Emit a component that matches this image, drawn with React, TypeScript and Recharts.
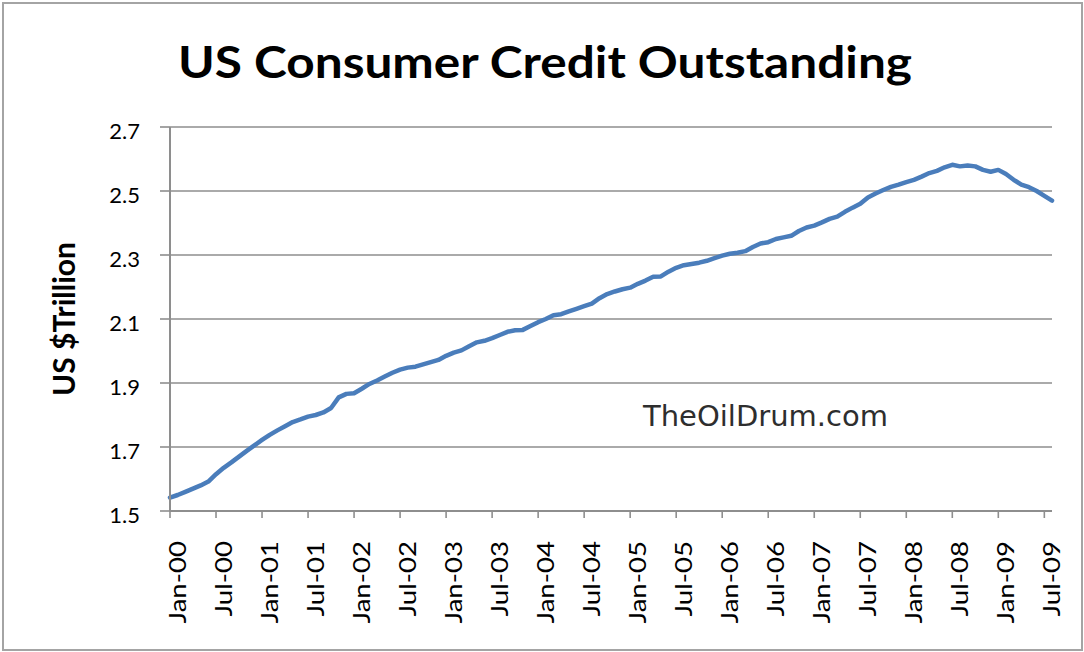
import React from 'react';
import { LineChart, Line, XAxis, YAxis, CartesianGrid } from 'recharts';

const MONTH_NAMES = ['Jan', 'Feb', 'Mar', 'Apr', 'May', 'Jun', 'Jul', 'Aug', 'Sep', 'Oct', 'Nov', 'Dec'];
const START_YEAR = 2000;

// US consumer credit outstanding, $ trillion, monthly Jan-2000 .. Aug-2009
const credit = [
  1.542, 1.550, 1.560, 1.570, 1.580, 1.592, 1.615, 1.635, 1.652, 1.670, 1.688, 1.705,
  1.722, 1.738, 1.752, 1.765, 1.778, 1.786, 1.795, 1.800, 1.808, 1.822, 1.855, 1.866,
  1.868, 1.882, 1.897, 1.908, 1.920, 1.932, 1.942, 1.948, 1.951, 1.958, 1.965, 1.972,
  1.985, 1.995, 2.002, 2.015, 2.027, 2.032, 2.040, 2.050, 2.060, 2.065, 2.066, 2.078,
  2.090, 2.100, 2.112, 2.115, 2.124, 2.132, 2.140, 2.148, 2.165, 2.178, 2.186, 2.193,
  2.198, 2.210, 2.220, 2.232, 2.233, 2.248, 2.260, 2.268, 2.272, 2.276, 2.282, 2.290,
  2.298, 2.304, 2.307, 2.312, 2.325, 2.336, 2.340, 2.350, 2.355, 2.360, 2.375, 2.386,
  2.392, 2.402, 2.413, 2.420, 2.435, 2.448, 2.460, 2.480, 2.492, 2.503, 2.513, 2.520,
  2.528, 2.535, 2.545, 2.556, 2.563, 2.574, 2.582, 2.577, 2.580, 2.577, 2.566, 2.560,
  2.566, 2.553, 2.535, 2.520, 2.512, 2.500, 2.485, 2.470,
];

const yTicks = [1.5, 1.7, 1.9, 2.1, 2.3, 2.5, 2.7];

const months = credit.map((_, i) => {
  const yr = START_YEAR + Math.floor(i / 12);
  return `${MONTH_NAMES[i % 12]}-${String(yr % 100).padStart(2, '0')}`;
});

const data = credit.map((v, i) => ({ month: months[i], value: v }));

const GRID = '#8e8e8e';

const XTick = (props: any) => {
  const { x, y, payload } = props;
  return (
    <g transform={`translate(${x},${y})`}>
      <text
        transform="rotate(-90) scale(1.2,1)"
        x={-21 / 1.2}
        y={16}
        textAnchor="end"
        fontFamily="Lato"
        fontSize={23}
        fill="#000"
      >
        {payload.value}
      </text>
    </g>
  );
};

const YTick = (props: any) => {
  const { x, y, payload } = props;
  return (
    <text x={x} y={y + 11.5} textAnchor="end" fontFamily="Lato" fontSize={22} fill="#000">
      {Number(payload.value).toFixed(1)}
    </text>
  );
};

export default function App() {
  return (
    <div style={{ position: 'absolute', left: 0, top: 0, width: 1084, height: 652, background: '#fff' }}>
      <div
        style={{
          position: 'absolute',
          left: 2,
          top: 2,
          width: 1081,
          height: 649,
          boxSizing: 'border-box',
          border: '2px solid #a4a4a4',
        }}
      />
      <div style={{ position: 'absolute', left: 0, top: 0 }}>
        <LineChart width={1084} height={652} data={data} margin={{ top: 127, right: 32, bottom: 20, left: 0 }}>
          <CartesianGrid vertical={false} stroke={GRID} strokeWidth={1.6} />
          <XAxis
            dataKey="month"
            interval={5}
            height={121}
            tickSize={7}
            tickMargin={2}
            axisLine={{ stroke: GRID, strokeWidth: 2 }}
            tickLine={{ stroke: GRID, strokeWidth: 1.6 }}
            tick={<XTick />}
          />
          <YAxis
            type="number"
            domain={[1.5, 2.7]}
            ticks={yTicks}
            width={170}
            tickSize={10}
            tickMargin={20}
            axisLine={{ stroke: GRID, strokeWidth: 2 }}
            tickLine={{ stroke: GRID, strokeWidth: 1.6 }}
            tick={<YTick />}
          />
          <Line
            type="linear"
            dataKey="value"
            stroke="#4a7dbb"
            strokeWidth={4.5}
            strokeLinejoin="round"
            strokeLinecap="round"
            dot={false}
            isAnimationActive={false}
          />
        </LineChart>
      </div>
      <svg
        width={1084}
        height={652}
        style={{ position: 'absolute', left: 0, top: 0, pointerEvents: 'none' }}
      >
        <text
          x={545}
          y={78}
          textAnchor="middle"
          fontFamily="Lato"
          fontWeight={700}
          fontSize={44}
          textLength={734}
          lengthAdjust="spacingAndGlyphs"
          fill="#000"
        >
          US Consumer Credit Outstanding
        </text>
        <text
          transform="translate(75,319) rotate(-90)"
          textAnchor="middle"
          fontFamily="Lato"
          fontWeight={700}
          fontSize={30}
          fill="#000"
        >
          US $Trillion
        </text>
        <text x={643} y={426} fontFamily="DejaVu Sans" fontSize={29} fill="#2e2e2e">
          TheOilDrum.com
        </text>
      </svg>
    </div>
  );
}
